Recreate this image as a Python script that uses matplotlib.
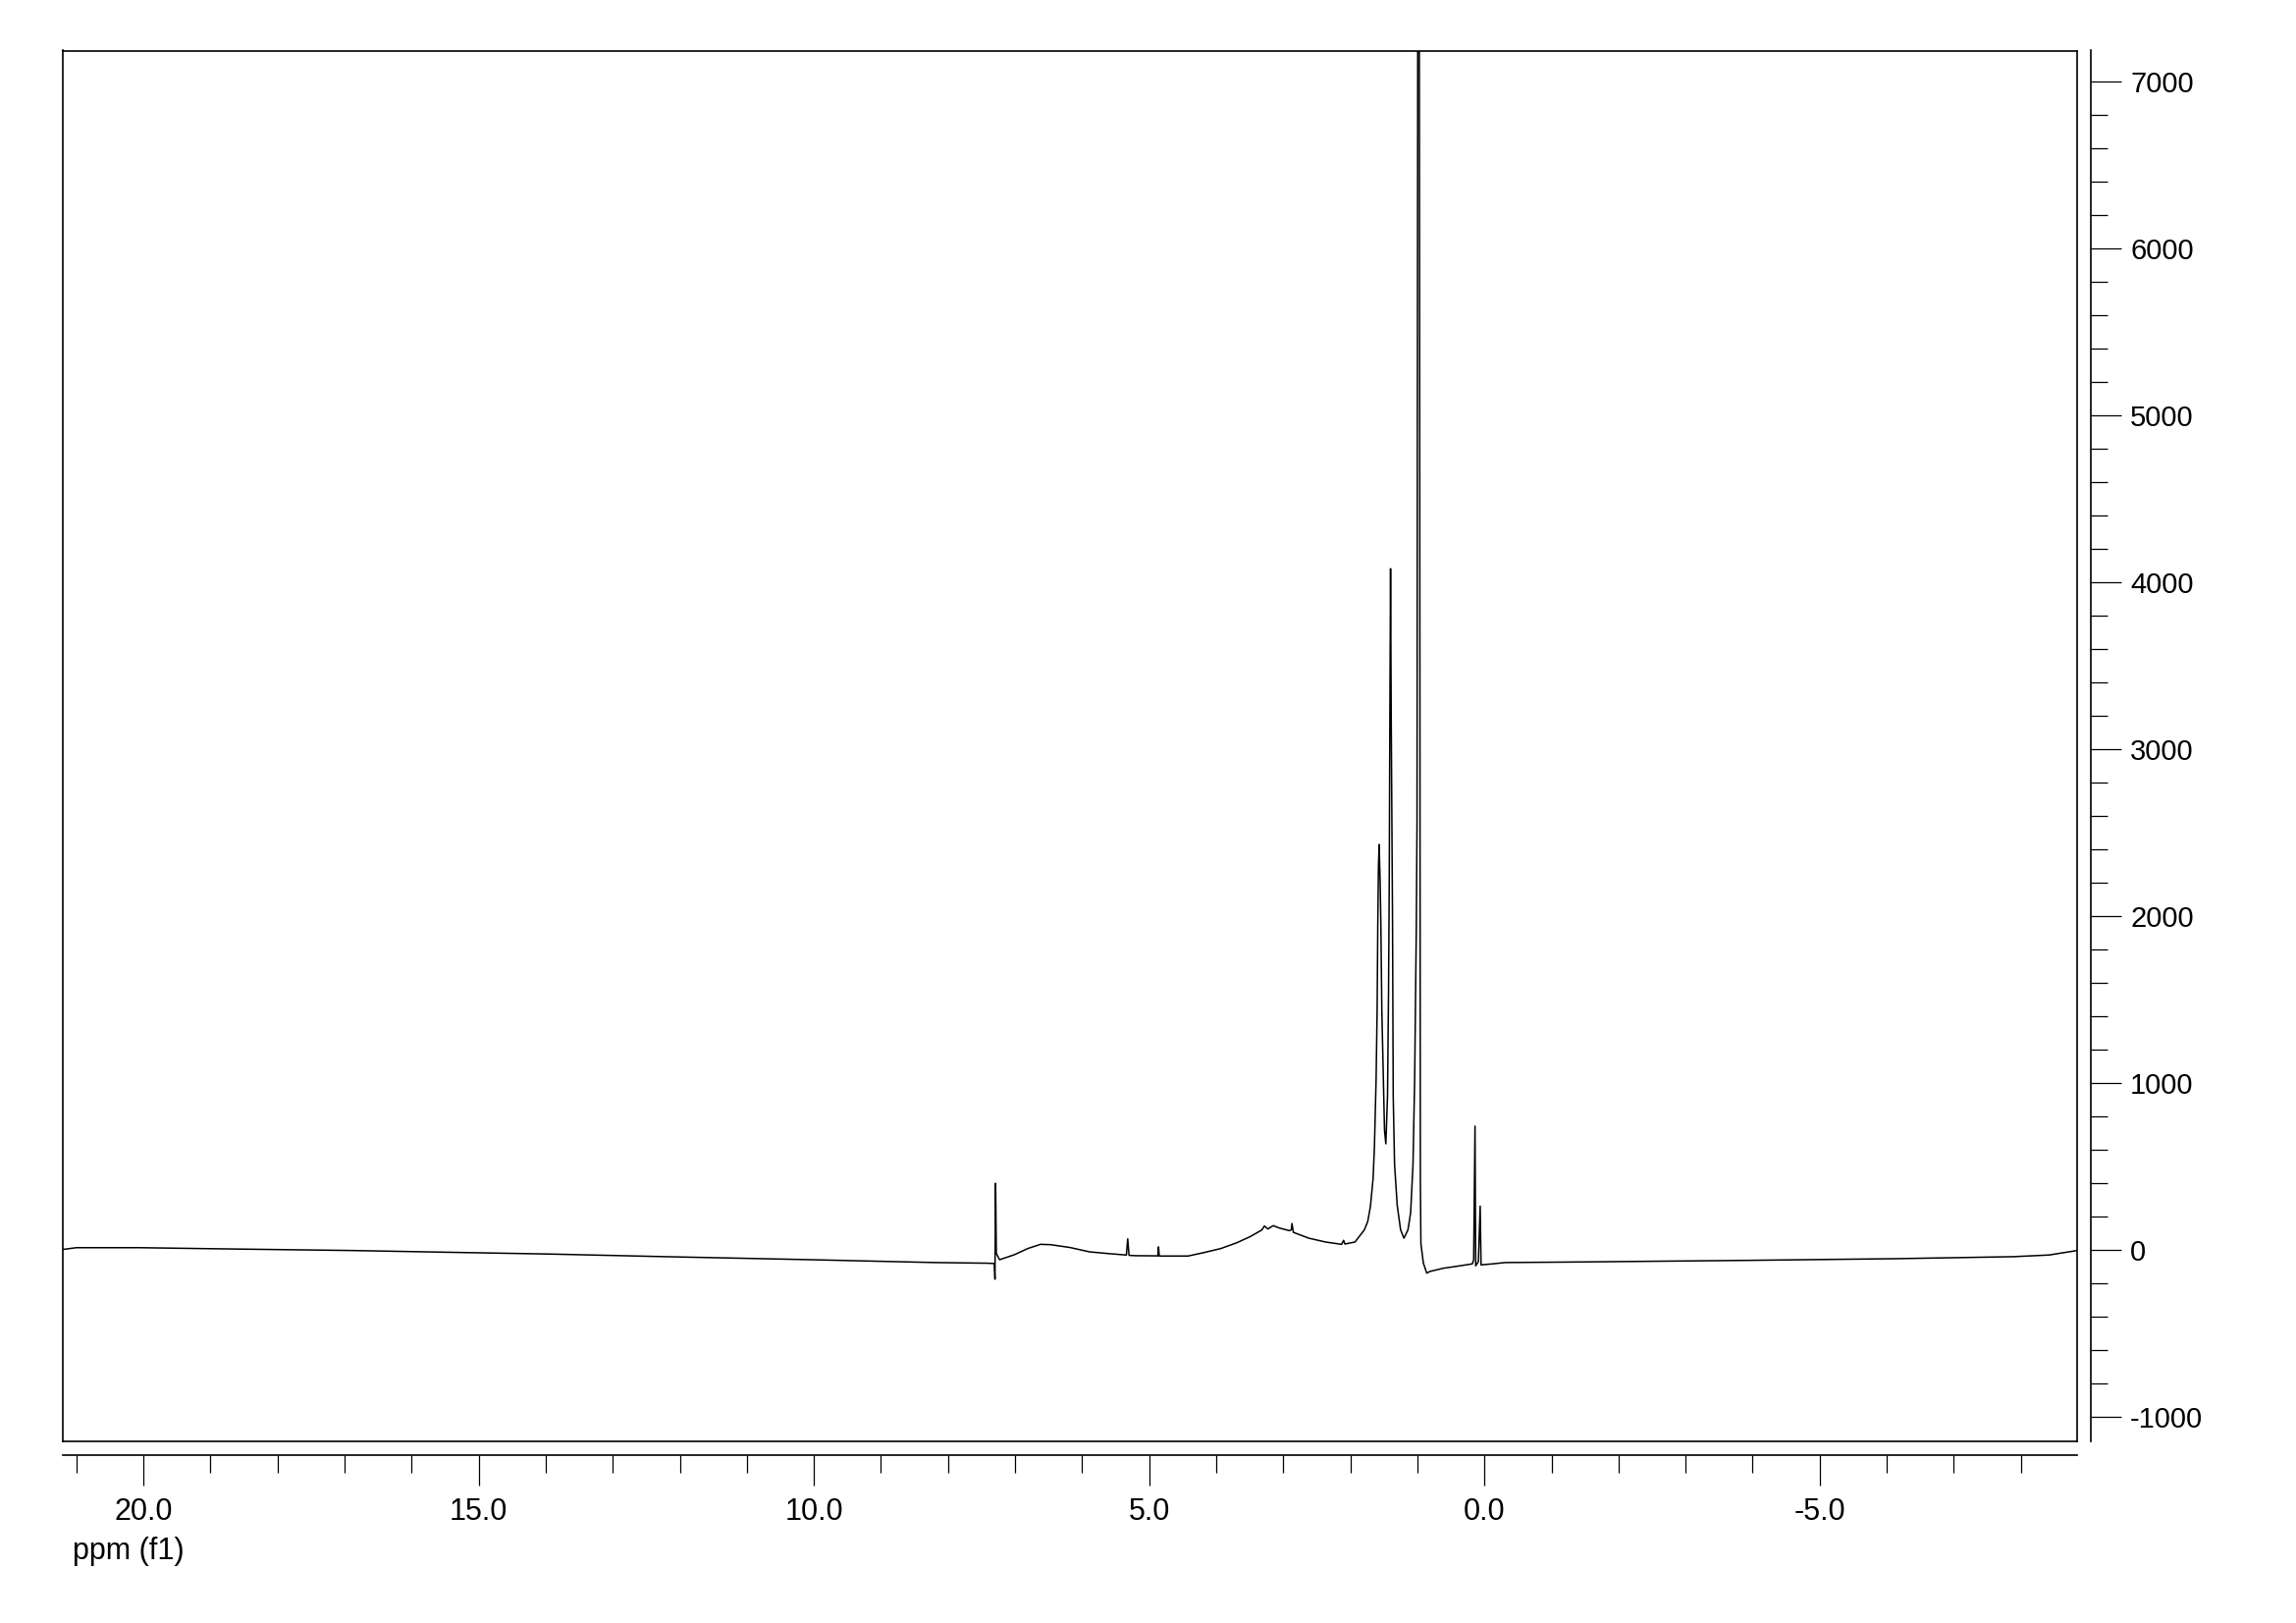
import matplotlib
matplotlib.use("Agg")
import matplotlib.pyplot as plt
from matplotlib.ticker import MultipleLocator, FormatStrFormatter

plt.rcParams['font.family'] = ['Liberation Sans', 'DejaVu Sans']
plt.rcParams['axes.unicode_minus'] = False

# chemical shift (ppm) and intensity
ppm = [21.21, 21.00, 20.07, 18.84, 16.89, 15.24, 13.96, 12.20, 10.05, 8.20,
       7.41, 7.31, 7.30, 7.29, 7.28, 7.25, 7.23, 7.01, 6.81, 6.62,
       6.47, 6.18, 5.89, 5.59, 5.34, 5.32, 5.30, 5.20, 4.87, 4.86,
       4.85, 4.42, 4.18, 3.93, 3.69, 3.49, 3.32, 3.28, 3.23, 3.15,
       3.06, 2.91, 2.88, 2.87, 2.85, 2.62, 2.37, 2.13, 2.10, 2.08,
       1.93, 1.79, 1.74, 1.70, 1.66, 1.64, 1.615, 1.60, 1.59, 1.58, 1.57,
       1.555, 1.545, 1.53, 1.49, 1.47, 1.445, 1.43, 1.42, 1.41, 1.40,
       1.39, 1.37, 1.36, 1.34, 1.30, 1.25, 1.20, 1.14, 1.10, 1.065,
       1.04, 1.015, 1.005, 1.000, 0.995, 0.99, 0.975, 0.97, 0.965, 0.96,
       0.955, 0.947, 0.91, 0.86, 0.81, 0.61, 0.37, 0.18, 0.16, 0.14,
       0.13, 0.09, 0.063, 0.05, -0.12, -0.31, -1.00, -1.58, -3.92, -6.12,
       -7.88, -8.42, -8.84]
intensity = [2, 13, 13, 6, -4, -16, -25, -41, -59, -76,
             -80, -82, -176, 399, -20, -45, -59, -29, 8, 33,
             31, 14, -12, -23, -31, 66, -33, -35, -36, 18,
             -37, -37, -16, 8, 43, 80, 119, 143, 125, 145,
             131, 115, 120, 158, 105, 70, 47, 33, 57, 35,
             47, 120, 170, 260, 428, 620, 1026, 1437, 1951, 2300, 2428,
             2200, 1972, 1437, 717, 635, 922, 1540, 2157, 3200, 4080,
             3200, 1951, 922, 511, 265, 120, 70, 120, 223, 511,
             1026, 1953, 2569, 5000, 7000, 14000, 14000, 7000, 5000, 2500,
             428, 37, -80, -139, -129, -110, -96, -84, -60, 741,
             -96, -70, 262, -90, -84, -76, -74, -72, -63, -53,
             -41, -31, -4]

x_limits = [21.21, -8.84]
y_limits = [-1147, 7183]

W, H = 2339, 1653
fig = plt.figure(figsize=(W / 100, H / 100), dpi=100)
left, right, top, bottom = 63.5, 2116, 51.5, 1468
ax = fig.add_axes([left / W, (H - bottom) / H, (right - left) / W, (bottom - top) / H])

ax.plot(ppm, intensity, color='black', lw=1.1)
ax.set_xlim(*x_limits)
ax.set_ylim(*y_limits)

px = 72 / 100  # points per pixel
for s in ['top', 'left', 'right', 'bottom']:
    ax.spines[s].set_linewidth(1.2)
ax.spines['bottom'].set_position(('outward', 14 * px))
ax.spines['right'].set_position(('outward', 14 * px))
# frame lines at the bottom and right edges of the plot box
ax.plot([0, 1], [0, 0], transform=ax.transAxes, color='black', lw=1.2, clip_on=False)
ax.plot([1, 1], [0, 1], transform=ax.transAxes, color='black', lw=1.2, clip_on=False)

ax.xaxis.set_major_locator(MultipleLocator(5))
ax.xaxis.set_minor_locator(MultipleLocator(1))
ax.xaxis.set_major_formatter(FormatStrFormatter('%.1f'))
ax.yaxis.set_major_locator(MultipleLocator(1000))
ax.yaxis.set_minor_locator(MultipleLocator(200))
ax.yaxis.set_major_formatter(FormatStrFormatter('%d'))
ax.yaxis.tick_right()
ax.xaxis.tick_bottom()

ax.tick_params(axis='x', which='major', direction='out', length=31 * px, width=0.9,
               labelsize=22, pad=9)
ax.tick_params(axis='x', which='minor', direction='out', length=18 * px, width=0.9)
ax.tick_params(axis='y', which='major', direction='out', length=31 * px, width=0.9,
               labelsize=21, pad=6.5)
ax.tick_params(axis='y', which='minor', direction='out', length=17 * px, width=0.9)

fig.text(74 / W, 1 - 1580 / H, 'ppm (f1)', fontsize=22, ha='left', va='center')

fig.savefig('out.png', dpi=100)
